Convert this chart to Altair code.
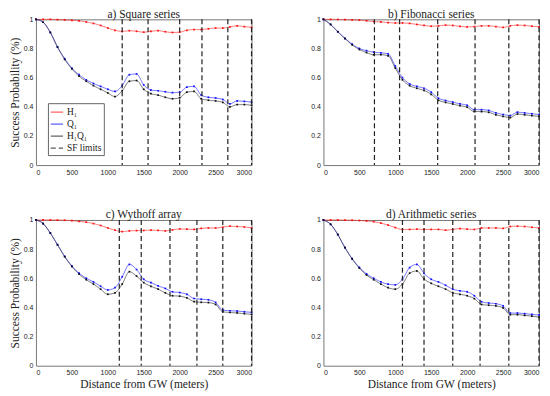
import altair as alt
import pandas as pd

DIST = list(range(0, 3001, 100))
SERIES = ["H₁", "Q₁", "H₁Q₁", "SF limits"]
COLORS = ["#ff3030", "#2a2aff", "#333333", "#222222"]
DASHES = [[1, 0], [1, 0], [1, 0], [5, 3]]

TITLES = ["a) Square series", "b) Fibonacci series", "c) Wythoff array", "d) Arithmetic series"]

H1_A = [1.0, 1.0, 1.0, 0.998, 0.996, 0.993, 0.99, 0.982, 0.972, 0.958, 0.94, 0.925, 0.917, 0.922, 0.918, 0.912,
        0.918, 0.922, 0.915, 0.91, 0.912, 0.925, 0.93, 0.93, 0.935, 0.94, 0.94, 0.948, 0.955, 0.95, 0.945]
Q1_A = [1.0, 0.98, 0.91, 0.81, 0.73, 0.665, 0.62, 0.585, 0.56, 0.54, 0.52, 0.505, 0.545, 0.62, 0.625, 0.55,
        0.515, 0.51, 0.503, 0.497, 0.5, 0.535, 0.54, 0.48, 0.465, 0.46, 0.45, 0.42, 0.44, 0.437, 0.432]
HQ_A = [1.0, 0.98, 0.91, 0.81, 0.725, 0.66, 0.61, 0.575, 0.545, 0.52, 0.495, 0.47, 0.51, 0.575, 0.58, 0.52,
        0.49, 0.48, 0.465, 0.455, 0.462, 0.5, 0.505, 0.455, 0.445, 0.44, 0.43, 0.4, 0.415, 0.415, 0.41]
SF_A = [1200, 1560, 2000, 2310, 2670, 3000]

H1_B = [1.0, 1.0, 0.999, 0.998, 0.996, 0.994, 0.99, 0.985, 0.982, 0.978, 0.975, 0.975, 0.972, 0.965, 0.958,
        0.953, 0.955, 0.96, 0.958, 0.952, 0.948, 0.95, 0.955, 0.955, 0.95, 0.945, 0.955, 0.96, 0.958, 0.953, 0.948]
Q1_B = [1.0, 0.965, 0.915, 0.87, 0.83, 0.8, 0.785, 0.775, 0.77, 0.763, 0.68, 0.6, 0.557, 0.54, 0.527, 0.5,
        0.459, 0.443, 0.432, 0.42, 0.41, 0.38, 0.38, 0.375, 0.358, 0.347, 0.34, 0.363, 0.358, 0.352, 0.347]
HQ_B = [1.0, 0.965, 0.915, 0.868, 0.825, 0.793, 0.772, 0.757, 0.757, 0.75, 0.665, 0.585, 0.545, 0.527, 0.512, 0.485,
        0.445, 0.43, 0.419, 0.407, 0.397, 0.367, 0.367, 0.362, 0.345, 0.334, 0.326, 0.35, 0.345, 0.339, 0.334]
SF_B = [710, 1060, 1590, 2110, 2580, 3000]

H1_C = [1.0, 1.0, 1.0, 0.999, 0.998, 0.995, 0.99, 0.985, 0.975, 0.962, 0.945, 0.93, 0.92, 0.925, 0.927, 0.928,
        0.93, 0.928, 0.925, 0.932, 0.938, 0.937, 0.935, 0.942, 0.945, 0.945, 0.95, 0.957, 0.955, 0.952, 0.945]
Q1_C = [1.0, 0.975, 0.91, 0.83, 0.75, 0.685, 0.635, 0.6, 0.575, 0.545, 0.52, 0.535, 0.61, 0.695, 0.66, 0.593,
        0.57, 0.548, 0.53, 0.507, 0.502, 0.49, 0.461, 0.456, 0.452, 0.434, 0.382, 0.377, 0.375, 0.37, 0.366]
HQ_C = [1.0, 0.975, 0.91, 0.83, 0.748, 0.68, 0.628, 0.59, 0.56, 0.525, 0.49, 0.5, 0.56, 0.645, 0.615, 0.57,
        0.545, 0.525, 0.5, 0.48, 0.477, 0.465, 0.44, 0.435, 0.433, 0.42, 0.37, 0.365, 0.362, 0.357, 0.352]
SF_C = [1160, 1465, 1865, 2240, 2600, 3000]

H1_D = [1.0, 1.0, 1.0, 0.999, 0.998, 0.996, 0.993, 0.988, 0.978, 0.965, 0.948, 0.935, 0.935, 0.937, 0.935, 0.935,
        0.935, 0.93, 0.935, 0.94, 0.937, 0.935, 0.945, 0.945, 0.945, 0.942, 0.955, 0.957, 0.955, 0.95, 0.945]
Q1_D = [1.0, 0.97, 0.9, 0.81, 0.735, 0.675, 0.63, 0.6, 0.575, 0.559, 0.555, 0.593, 0.673, 0.695, 0.634, 0.593,
        0.575, 0.552, 0.525, 0.514, 0.507, 0.48, 0.439, 0.43, 0.425, 0.411, 0.361, 0.361, 0.357, 0.352, 0.348]
HQ_D = [1.0, 0.97, 0.9, 0.81, 0.732, 0.67, 0.622, 0.59, 0.56, 0.535, 0.525, 0.56, 0.635, 0.65, 0.595, 0.565,
        0.545, 0.525, 0.5, 0.49, 0.48, 0.46, 0.42, 0.415, 0.41, 0.397, 0.35, 0.35, 0.345, 0.34, 0.333]
SF_D = [1100, 1400, 1800, 2180, 2580, 3000]

PANELS = [
    (TITLES[0], H1_A, Q1_A, HQ_A, SF_A),
    (TITLES[1], H1_B, Q1_B, HQ_B, SF_B),
    (TITLES[2], H1_C, Q1_C, HQ_C, SF_C),
    (TITLES[3], H1_D, Q1_D, HQ_D, SF_D),
]

X_TICKS = [0, 500, 1000, 1500, 2000, 2500, 3000]
Y_TICKS = [0, 0.2, 0.4, 0.6, 0.8, 1.0]

SERIF = "Liberation Serif"
SANS = "Liberation Sans"


def panel(idx):
    title, h1, q1, hq, sf = PANELS[idx]
    rows = []
    for name, vals in zip(SERIES[:3], [h1, q1, hq]):
        for d, v in zip(DIST, vals):
            rows.append({"dist": d, "p": v, "series": name})
    df = pd.DataFrame(rows)
    sfdf = pd.DataFrame({"dist": sf, "series": [SERIES[3]] * len(sf)})

    show_legend = idx == 0
    bottom = idx >= 2
    left = idx % 2 == 0

    xaxis = alt.Axis(values=X_TICKS, format="d", labelOverlap=False,
                     title="Distance from GW (meters)" if bottom else None)
    yaxis = alt.Axis(values=Y_TICKS, format="~g", labelOverlap=False,
                     title="Success Probability (%)" if left else None)
    xscale = alt.Scale(domain=[0, 3000], nice=False)
    yscale = alt.Scale(domain=[0, 1], nice=False)
    xenc = alt.X("dist:Q", scale=xscale, axis=xaxis)
    yenc = alt.Y("p:Q", scale=yscale, axis=yaxis)

    if show_legend:
        leg = alt.Legend(orient="none", legendX=12, legendY=84, title=None,
                         symbolType="stroke", symbolSize=150, symbolStrokeWidth=1.3,
                         labelFont=SERIF, labelFontSize=9.5, strokeColor="#666",
                         fillColor="white", padding=2, rowPadding=0, labelOffset=3,
                         cornerRadius=0, labelColor="#222")
    else:
        leg = None

    col = alt.Color("series:N", scale=alt.Scale(domain=SERIES, range=COLORS), legend=leg)
    dash = alt.StrokeDash("series:N", scale=alt.Scale(domain=SERIES, range=DASHES), legend=leg)

    lines = alt.Chart(df).mark_line(strokeWidth=0.9, opacity=0.75, interpolate="monotone").encode(
        x=xenc, y=yenc, color=col, strokeDash=dash)
    pts = alt.Chart(df).mark_square(size=3, opacity=0.9).encode(
        x=xenc, y=yenc,
        fill=alt.Fill("series:N", scale=alt.Scale(domain=SERIES[:3], range=["#ff0000", "#0000ff", "#000000"]),
                      legend=None))
    rules = alt.Chart(sfdf).mark_rule(strokeWidth=1.2).encode(
        x=xenc, color=col, strokeDash=dash)

    return alt.layer(lines, pts, rules).properties(
        width=216, height=146,
        title=alt.TitleParams(title, font=SERIF, fontSize=11.5, fontWeight="normal", offset=-5,
                              anchor="middle", frame="group", color="#222"))


top = alt.hconcat(panel(0), panel(1), spacing=55)
bot = alt.hconcat(panel(2), panel(3), spacing=55)
chart = alt.vconcat(top, bot, spacing=33).resolve_scale(
    color="independent", strokeDash="independent", fill="independent"
).resolve_legend(color="independent", strokeDash="independent").properties(
    padding={"left": 0, "top": 0, "right": 0, "bottom": 0}
).configure_view(stroke="#777", strokeWidth=1).configure_axis(
    domain=False, grid=False, ticks=False, labelPadding=3, labelOverlap=False,
    labelFont=SANS, labelFontSize=7, labelColor="#222",
    titleFont=SERIF, titleFontSize=11.5, titleFontWeight="normal", titleColor="#222", titlePadding=3
)

chart.save("out.html", embed_options={"renderer": "svg", "actions": False})
